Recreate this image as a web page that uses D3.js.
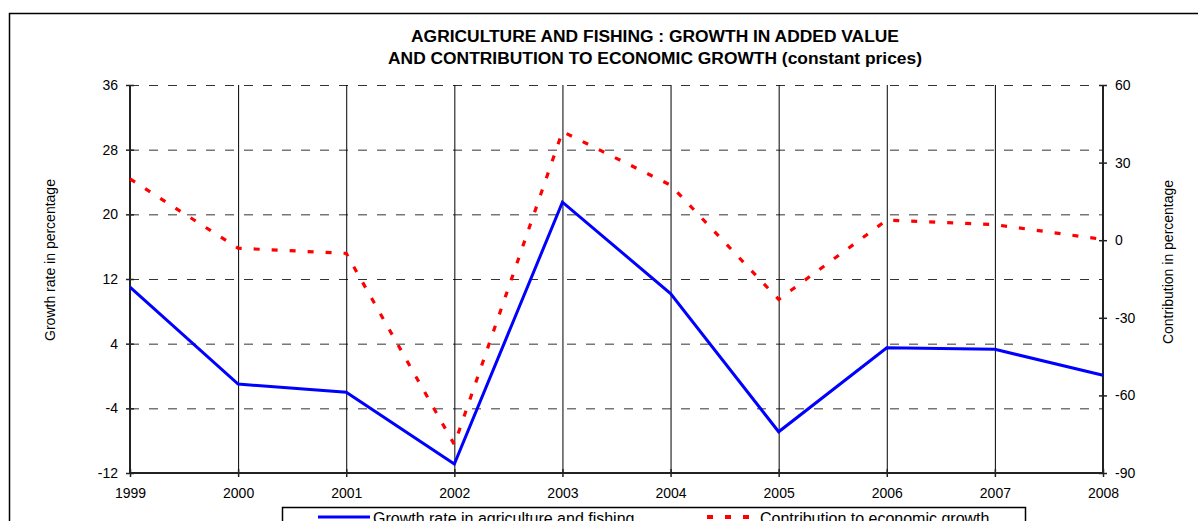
<!DOCTYPE html>
<html>
<head>
<meta charset="utf-8">
<script src="https://cdn.jsdelivr.net/npm/d3@7"></script>
<style>
  body { margin: 0; background: #fff; }
  svg { display: block; font-family: Arial, "Liberation Sans", sans-serif; }
</style>
</head>
<body>
<div id="chart"></div>
<script>
const years = ["1999", "2000", "2001", "2002", "2003", "2004", "2005", "2006", "2007", "2008"];
const growthRate = [11.0, -1.0, -2.0, -10.9, 21.5, 10.2, -6.9, 3.5, 3.3, 0.1];
const contribution = [23.7, -3.1, -5.1, -79.0, 42.0, 21.3, -22.9, 7.8, 6.0, 0.3];
const leftTicks = [-12, -4, 4, 12, 20, 28, 36];
const rightTicks = [-90, -60, -30, 0, 30, 60];

const width = 1198, height = 521;
const margin = { left: 130, right: 95, top: 85, bottom: 48 };

const svg = d3.select("#chart").append("svg")
    .attr("width", width)
    .attr("height", height);

// outer frame
svg.append("rect")
    .attr("x", 9.5).attr("y", 13.5)
    .attr("width", 1200).attr("height", 600)
    .attr("fill", "none").attr("stroke", "#000").attr("stroke-width", 1.5);

const x = d3.scalePoint().domain(years).range([margin.left, width - margin.right]);
const yL = d3.scaleLinear().domain([-12, 36]).range([height - margin.bottom, margin.top]);
const yR = d3.scaleLinear().domain([-90, 60]).range([height - margin.bottom, margin.top]);

const x0 = x.range()[0], x1 = x.range()[1];

// horizontal dashed grid
svg.append("g").selectAll("line")
    .data(leftTicks.slice(1))
    .enter().append("line")
    .attr("x1", x0).attr("x2", x1)
    .attr("y1", d => yL(d) + 0.5).attr("y2", d => yL(d) + 0.5)
    .attr("stroke", "#333").attr("stroke-width", 1)
    .attr("stroke-dasharray", "9,10");

// vertical grid
svg.append("g").selectAll("line")
    .data(years.slice(1, -1))
    .enter().append("line")
    .attr("x1", d => x(d) + 0.5).attr("x2", d => x(d) + 0.5)
    .attr("y1", margin.top).attr("y2", height - margin.bottom)
    .attr("stroke", "#000").attr("stroke-width", 1);

// axes (plain hyphen for negatives, like the original)
const fmt = d => String(d);
const leftAxis = d3.axisLeft(yL).tickValues(leftTicks).tickFormat(fmt).tickSize(4).tickPadding(8);
const rightAxis = d3.axisRight(yR).tickValues(rightTicks).tickFormat(fmt).tickSize(4).tickPadding(8);
const bottomAxis = d3.axisBottom(x).tickSize(4).tickPadding(11);

function styleAxis(g) {
  g.select(".domain").attr("stroke", "#222").attr("stroke-width", 2);
  g.selectAll(".tick line").attr("stroke", "#222").attr("stroke-width", 1.5);
  g.selectAll(".tick text").attr("font-size", 14).attr("fill", "#000")
      .attr("font-family", "Arial, 'Liberation Sans', sans-serif");
}

svg.append("g").attr("transform", `translate(${x0},0)`).call(leftAxis).call(styleAxis)
    .call(g => g.selectAll(".tick line").attr("x2", -4).attr("x1", 4))
    .call(g => g.select(".domain").attr("d", `M0,${yL(36)}V${yL(-12)}`));
svg.append("g").attr("transform", `translate(${x1},0)`).call(rightAxis).call(styleAxis)
    .call(g => g.selectAll(".tick line").attr("x1", -4).attr("x2", 4))
    .call(g => g.select(".domain").attr("d", `M0,${yR(60)}V${yR(-90)}`));
svg.append("g").attr("transform", `translate(0,${height - margin.bottom})`).call(bottomAxis).call(styleAxis)
    .call(g => g.selectAll(".tick line").attr("y1", -4).attr("y2", 4))
    .call(g => g.select(".domain").attr("d", `M${x0},0H${x1}`));

// lines
const lineL = d3.line().x((d, i) => x(years[i])).y(d => yL(d));
const lineR = d3.line().x((d, i) => x(years[i])).y(d => yR(d));

svg.append("path")
    .datum(growthRate)
    .attr("d", lineL)
    .attr("fill", "none").attr("stroke", "#0000ff").attr("stroke-width", 3)
    .attr("stroke-linejoin", "miter");

svg.append("path")
    .datum(contribution)
    .attr("d", lineR)
    .attr("fill", "none").attr("stroke", "#ff0000").attr("stroke-width", 3.2)
    .attr("stroke-dasharray", "6,12");

// title
const title = svg.append("text")
    .attr("text-anchor", "middle")
    .attr("font-weight", "bold").attr("font-size", 17.4);
title.append("tspan").attr("x", 655).attr("y", 42).text("AGRICULTURE AND FISHING : GROWTH IN ADDED VALUE");
title.append("tspan").attr("x", 655).attr("y", 64).text("AND CONTRIBUTION TO ECONOMIC GROWTH (constant prices)");

// axis titles
svg.append("text")
    .attr("transform", "translate(55,260) rotate(-90)")
    .attr("text-anchor", "middle").attr("font-size", 14)
    .text("Growth rate in percentage");
svg.append("text")
    .attr("transform", "translate(1173,262) rotate(-90)")
    .attr("text-anchor", "middle").attr("font-size", 14)
    .text("Contribution in percentage");

// legend
const legend = svg.append("g");
legend.append("rect")
    .attr("x", 282.5).attr("y", 507.5).attr("width", 743).attr("height", 40)
    .attr("fill", "#fff").attr("stroke", "#000").attr("stroke-width", 1.5);
legend.append("line")
    .attr("x1", 318).attr("x2", 370).attr("y1", 517).attr("y2", 517)
    .attr("stroke", "#0000ff").attr("stroke-width", 3);
legend.append("text")
    .attr("x", 373).attr("y", 524).attr("font-size", 16)
    .text("Growth rate in agriculture and fishing");
legend.append("line")
    .attr("x1", 707).attr("x2", 752).attr("y1", 517).attr("y2", 517)
    .attr("stroke", "#ff0000").attr("stroke-width", 4)
    .attr("stroke-dasharray", "6,12");
legend.append("text")
    .attr("x", 760).attr("y", 524).attr("font-size", 16)
    .text("Contribution to economic growth");
</script>
</body>
</html>
